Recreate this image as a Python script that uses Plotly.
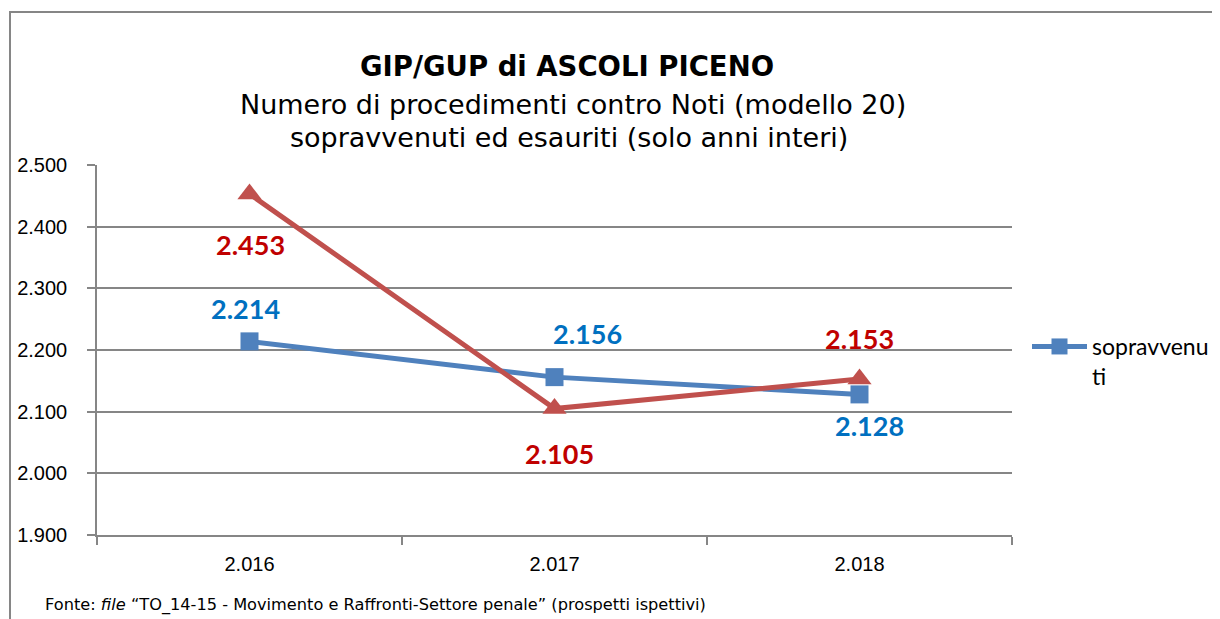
import plotly.graph_objects as go

categories = ["2.016", "2.017", "2.018"]
sopravvenuti = [2214, 2156, 2128]
esauriti = [2453, 2105, 2153]
y_ticks = [1900, 2000, 2100, 2200, 2300, 2400, 2500]

BLUE = "#4F81BD"
RED = "#C0504D"
BLUE_LBL = "#0070C0"
RED_LBL = "#C00000"
GRID = "#868686"

OFF = 8  # page body margin
W, H = 1220 - OFF, 619 - OFF
L, R, T, B = 97 - OFF, 1012 - OFF, 165 - OFF, 535 - OFF


def px(x):
    return (x - OFF - L) / (R - L)


def py(y):
    return (B - (y - OFF)) / (B - T)


def fmt(v):
    return f"{v:,}".replace(",", ".")


fig = go.Figure()
fig.add_trace(go.Scatter(
    x=categories, y=sopravvenuti, mode="lines+markers", name="sopravvenu<br>ti",
    line=dict(color=BLUE, width=5),
    marker=dict(symbol="square", size=18, color=BLUE),
))
fig.add_trace(go.Scatter(
    x=categories, y=esauriti, mode="lines+markers", name="esauriti",
    line=dict(color=RED, width=5),
    marker=dict(symbol="triangle-up", size=21, color=RED),
    showlegend=False,
))

blue_shift = [(-4, 33), (33, 44), (10, -31)]
red_shift = [(1, -51), (5, -45), (0, 40)]
annotations = []
for i, (v, (dx, dy)) in enumerate(zip(sopravvenuti, blue_shift)):
    annotations.append(dict(x=i, y=v, xref="x", yref="y", text="<b>%s</b>" % fmt(v),
                            showarrow=False, xshift=dx, yshift=dy,
                            font=dict(family="Lato", size=27, color=BLUE_LBL)))
for i, (v, (dx, dy)) in enumerate(zip(esauriti, red_shift)):
    annotations.append(dict(x=i, y=v, xref="x", yref="y", text="<b>%s</b>" % fmt(v),
                            showarrow=False, xshift=dx, yshift=dy,
                            font=dict(family="Lato", size=27, color=RED_LBL)))

annotations += [
    dict(x=px(567), y=py(48), xref="paper", yref="paper", showarrow=False,
         text="<b>GIP/GUP di ASCOLI PICENO</b>",
         font=dict(family="DejaVu Sans", size=27.5, color="#000000")),
    dict(x=px(573), y=py(87), xref="paper", yref="paper", showarrow=False,
         text="Numero di procedimenti contro Noti (modello 20)",
         font=dict(family="DejaVu Sans", size=27, color="#000000")),
    dict(x=px(569), y=py(120), xref="paper", yref="paper", showarrow=False,
         text="sopravvenuti ed esauriti (solo anni interi)",
         font=dict(family="DejaVu Sans", size=27, color="#000000")),
    dict(x=px(43), y=py(605), xref="paper", yref="paper", showarrow=False,
         xanchor="left", yanchor="middle",
         text="Fonte: <i>file</i> \u201cTO_14-15 - Movimento e Raffronti-Settore penale\u201d (prospetti ispettivi)",
         font=dict(family="DejaVu Sans", size=16.2, color="#000000")),
]

fig.update_layout(
    width=W, height=H,
    margin=dict(l=L, r=W - R, t=T, b=H - B, pad=0, autoexpand=False),
    paper_bgcolor="white", plot_bgcolor="white",
    separators=",.",
    showlegend=True,
    legend=dict(x=px(1027), y=py(325), xanchor="left", yanchor="top",
                font=dict(family="Lato", size=23, color="#000000"),
                bgcolor="rgba(0,0,0,0)", valign="top", itemwidth=55),
    annotations=annotations,
    shapes=[dict(type="rect", xref="paper", yref="paper",
                 x0=px(10), x1=px(1215), y0=py(640), y1=py(12),
                 line=dict(color=GRID, width=2), fillcolor="rgba(0,0,0,0)", layer="below")],
)

fig.update_xaxes(
    type="category", range=[-0.5, 2.5], tickson="boundaries",
    showline=True, linecolor=GRID, linewidth=1.5,
    ticks="outside", ticklen=8, tickcolor=GRID, tickwidth=1.5,
    showgrid=False, ticklabelstandoff=10,
    tickfont=dict(family="Liberation Sans", size=20, color="#000000"),
)
fig.update_yaxes(
    range=[1900, 2500], tickvals=y_ticks, tickformat=",.0f",
    showline=True, linecolor=GRID, linewidth=1.5,
    ticks="outside", ticklen=8, tickcolor=GRID, tickwidth=1.5,
    showgrid=True, gridcolor=GRID, gridwidth=1.5, zeroline=False,
    ticklabelstandoff=16,
    tickfont=dict(family="Liberation Sans", size=20, color="#000000"),
)

fig.write_html("out.html")
